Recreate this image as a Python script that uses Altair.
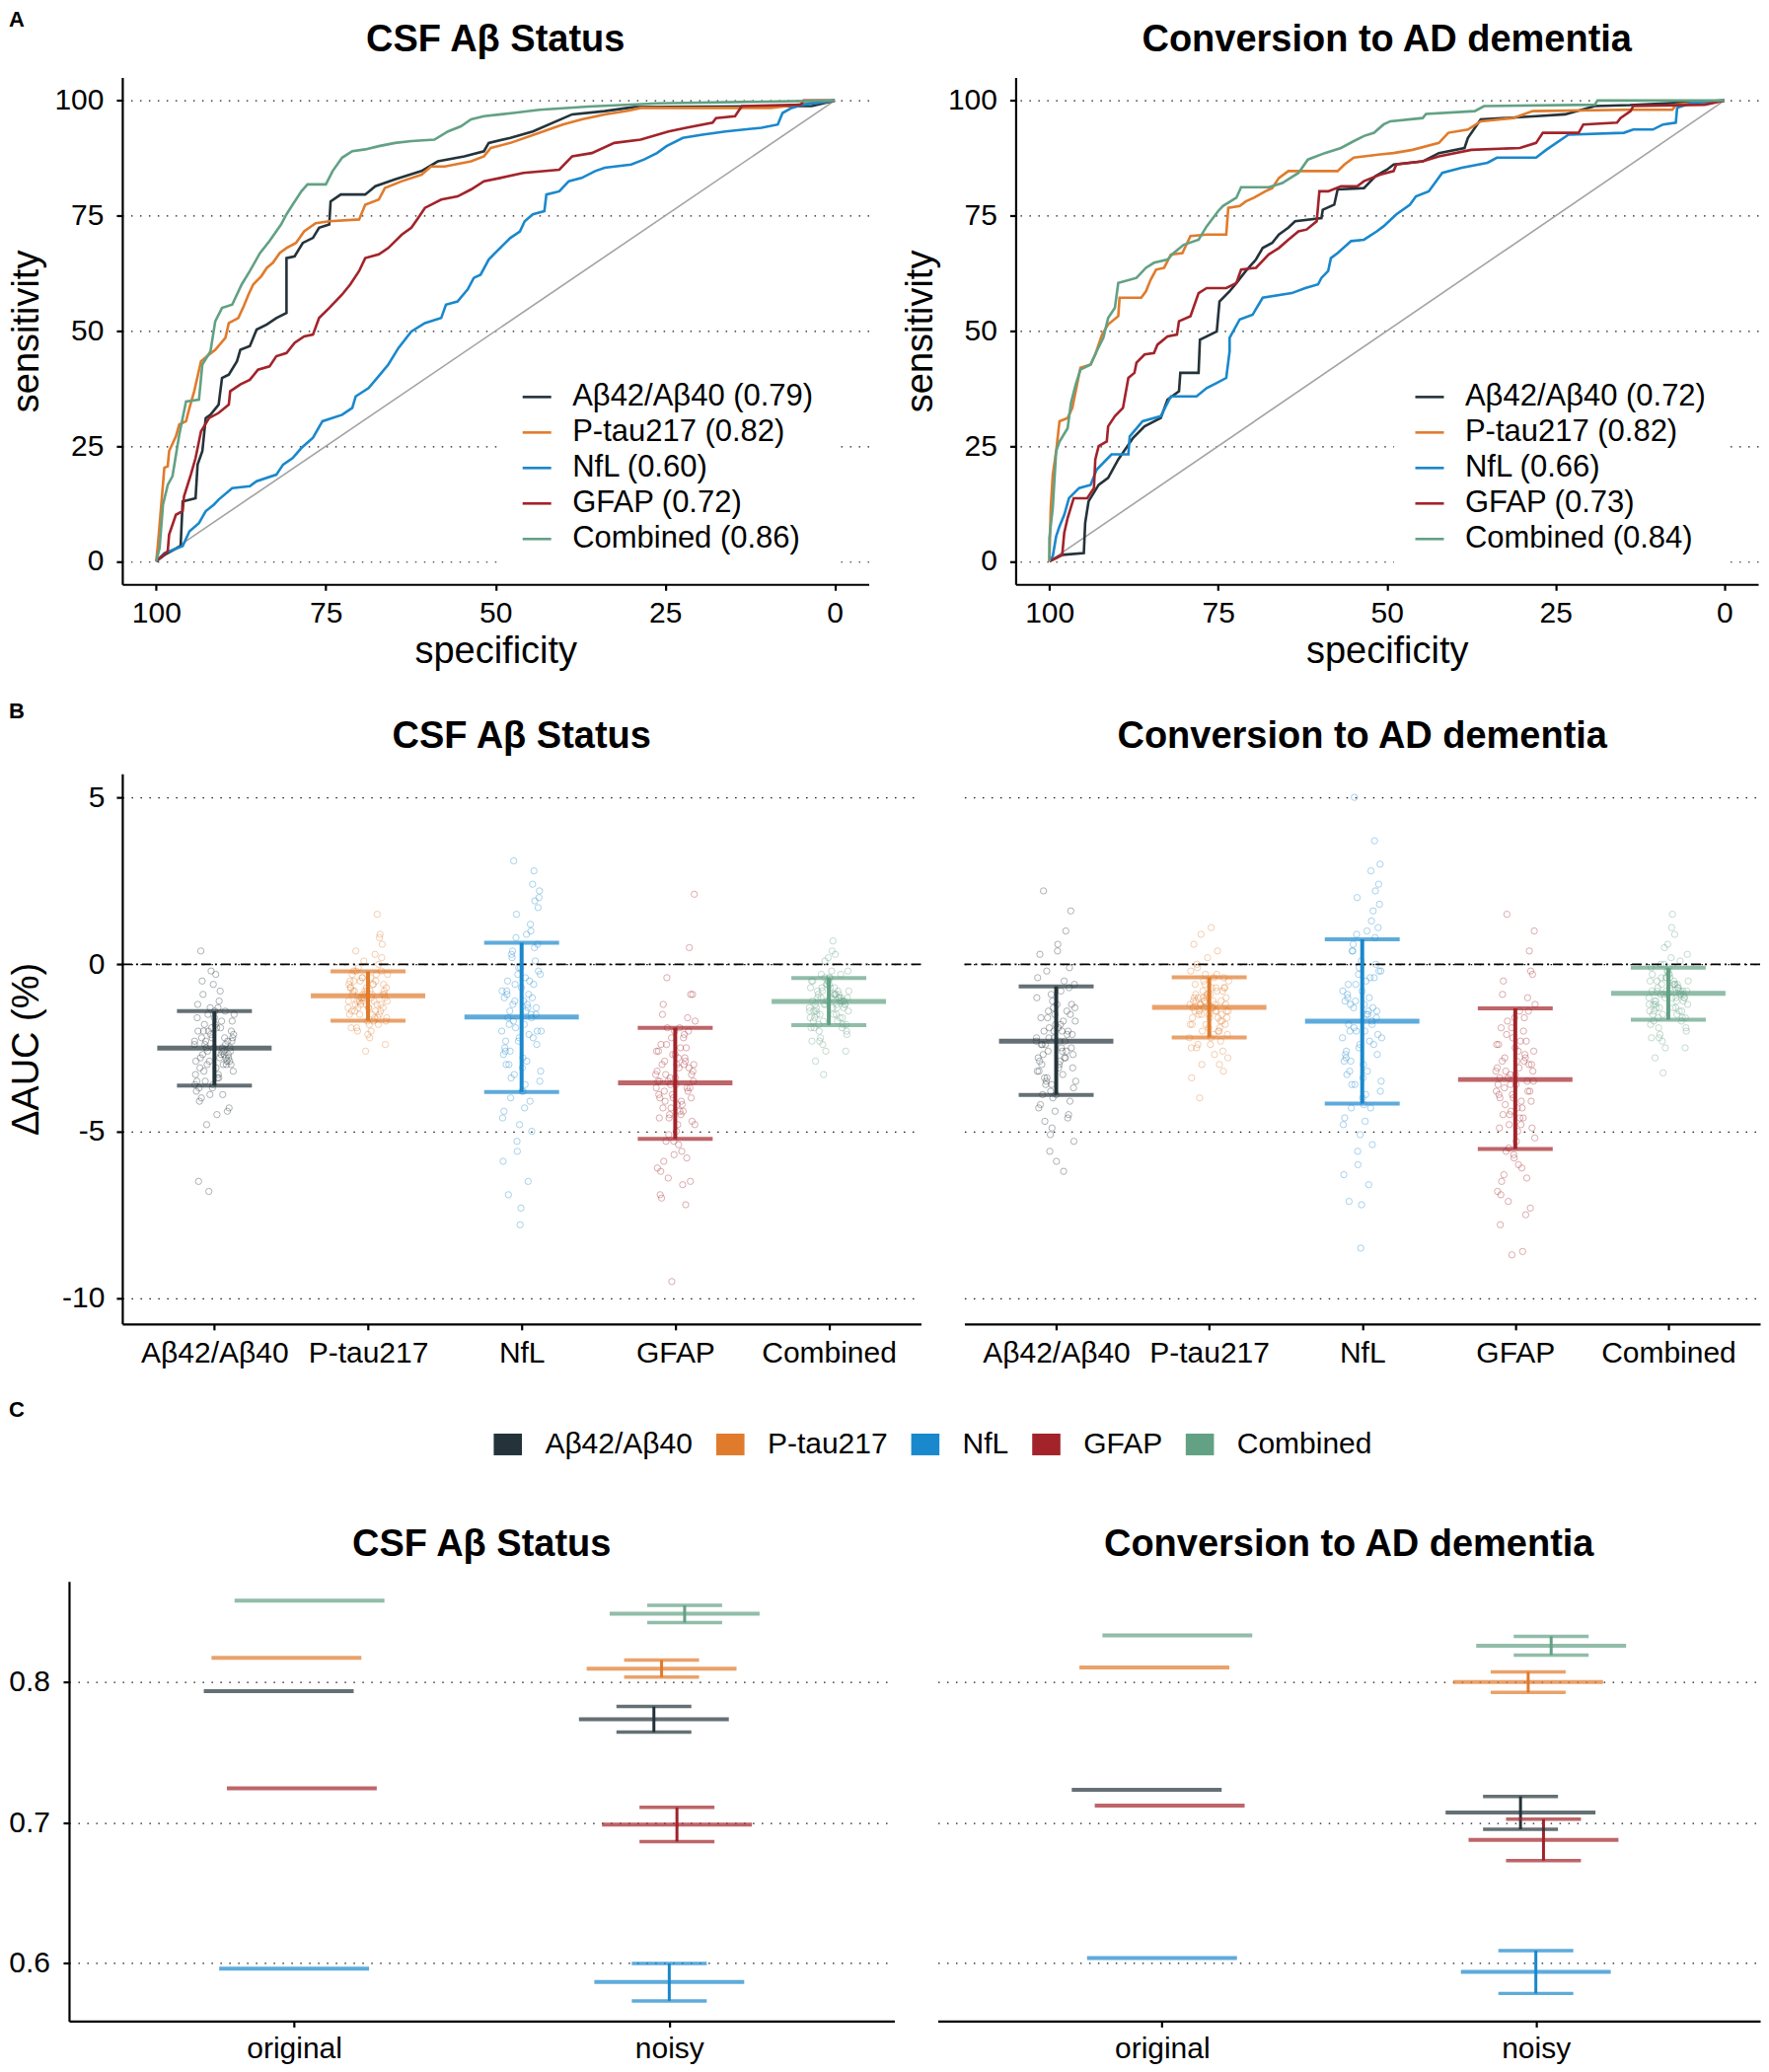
import altair as alt
import pandas as pd

FONT = "Liberation Sans, Arial, Helvetica, sans-serif"

MARKERS = ["Aβ42/Aβ40", "P-tau217", "NfL", "GFAP", "Combined"]
COLORS = ["#24333a", "#e07b2c", "#1a88cc", "#a2232a", "#62a184"]

# ---------------- Panel A : ROC curves, (specificity, sensitivity) ----------------
csf_roc_abeta = [(100,0),(98.8,1.4),(96.4,3.3),(96.1,13.0),(94.2,13.7),(93.9,21.0),(93.2,23.9),(92.7,31.1),(92.0,31.8),(90.8,34.0),(90.3,39.8),(89.3,40.5),(88.1,43.4),(87.6,45.9),(86.2,46.7),(85.2,50.3),(83.7,51.4),(82.3,52.8),(80.8,53.9),(80.8,65.8),(79.6,66.2),(78.4,69.1),(76.9,70.2),(76.0,72.4),(74.5,73.1),(74.3,78.1),(72.8,79.6),(69.2,79.6),(67.7,81.4),(64.8,82.9),(60.9,84.7),(58.5,86.8),(54.6,87.9),(51.7,89.0),(51.0,90.8),(47.8,91.9),(44.5,93.3),(38.7,97.0),(33.9,97.7),(30.5,98.4),(29.6,98.6),(3.4,98.8),(0,100)]
csf_roc_ptau = [(100,0),(99.8,2.9),(99.5,8.0),(98.8,20.3),(98.3,20.6),(98.1,23.9),(97.1,27.1),(96.6,29.7),(95.6,30.4),(95.1,33.3),(94.4,36.9),(93.4,43.4),(92.5,44.5),(91.3,45.9),(89.8,48.5),(89.3,51.7),(87.9,52.8),(87.1,55.4),(86.4,57.9),(85.7,60.1),(84.5,61.9),(83.7,63.7),(82.8,64.8),(81.8,66.9),(80.8,68.0),(79.4,69.1),(78.2,71.6),(76.5,73.4),(74.5,73.8),(70.1,74.2),(69.2,77.4),(67.2,78.5),(66.3,81.0),(63.8,82.5),(60.9,83.9),(59.5,85.7),(57.5,85.7),(53.6,86.8),(51.7,87.9),(50.7,89.7),(47.8,90.8),(43.5,93.0),(40.1,94.8),(37.3,95.9),(33.9,97.0),(30.5,97.8),(28.6,98.4),(9.4,98.4),(5.5,99.1),(0,100)]
csf_roc_nfl = [(100,0),(98.8,1.8),(96.1,3.3),(95.1,6.5),(93.7,8.3),(92.7,10.9),(91.5,12.3),(90.8,13.4),(88.8,15.9),(86.2,16.3),(85.2,17.4),(82.3,18.8),(81.3,21.0),(79.9,22.4),(78.6,24.6),(76.9,26.8),(75.5,30.4),(72.6,31.8),(71.1,33.3),(70.6,35.8),(68.7,37.6),(67.2,40.2),(65.8,42.7),(64.3,46.3),(62.4,49.9),(60.4,51.7),(58.0,52.8),(57.3,55.7),(55.6,56.4),(54.1,59.0),(53.2,61.5),(52.2,62.2),(51.0,65.5),(49.8,67.3),(47.8,70.2),(46.4,71.6),(45.7,73.8),(44.5,75.3),(42.8,76.0),(42.5,79.6),(40.6,80.3),(39.2,82.5),(37.3,83.2),(35.3,84.7),(33.9,85.4),(30.0,86.1),(28.1,87.2),(26.2,88.6),(24.8,90.1),(22.4,91.9),(19.5,92.6),(16.1,93.3),(10.8,94.1),(8.4,94.8),(7.7,97.3),(6.5,98.3),(4.6,99.1),(0,100)]
csf_roc_gfap = [(100,0),(99.5,0.7),(98.3,2.2),(98.1,5.8),(97.1,10.1),(96.1,10.9),(95.9,14.1),(94.9,18.8),(94.2,22.4),(93.4,28.2),(92.2,31.1),(90.8,32.2),(89.3,34.0),(89.1,36.9),(87.6,38.4),(86.2,39.4),(85.0,41.6),(83.3,42.3),(82.3,44.5),(80.8,45.2),(79.6,47.4),(78.2,48.8),(76.9,49.2),(76.0,52.8),(74.5,55.0),(72.6,57.9),(71.4,60.1),(70.1,63.0),(69.2,65.8),(67.2,66.6),(65.8,68.0),(63.8,70.9),(62.4,72.4),(61.4,74.5),(60.4,76.7),(58.0,78.5),(55.6,79.2),(53.6,80.7),(51.7,82.5),(49.3,83.2),(45.9,84.3),(40.6,85.0),(38.7,87.9),(35.8,88.6),(32.5,90.8),(28.6,91.5),(24.5,93.3),(21.9,94.1),(18.0,95.2),(17.5,96.2),(14.7,96.6),(13.7,98.8),(5.0,99.1),(4.6,100),(0,100)]
csf_roc_comb = [(100,0),(99.5,2.9),(99.0,12.3),(98.3,16.6),(97.6,18.5),(96.6,27.5),(95.6,34.7),(93.7,35.1),(93.2,42.7),(92.0,45.6),(91.3,52.1),(90.3,55.0),(88.8,55.7),(87.4,60.1),(86.2,63.0),(84.7,66.9),(83.3,69.5),(81.6,73.1),(80.8,75.3),(79.9,77.4),(78.6,80.3),(77.7,81.8),(75.0,81.8),(74.0,84.7),(72.6,87.6),(71.1,89.0),(69.2,89.4),(67.2,90.1),(64.8,90.8),(62.4,91.2),(59.0,91.5),(57.0,93.3),(55.1,94.4),(53.6,95.9),(51.7,96.6),(47.4,97.3),(43.5,98.0),(36.3,98.7),(26.2,99.4),(0,100)]

conv_roc_abeta = [(100,0),(98.1,1.4),(94.9,1.8),(94.7,8.3),(94.2,13.0),(92.7,16.6),(91.3,18.1),(89.8,22.1),(87.6,26.8),(85.9,29.3),(83.5,31.1),(82.5,35.1),(80.8,36.9),(80.6,40.9),(77.9,40.9),(77.7,48.1),(75.2,49.9),(74.8,56.4),(73.3,58.6),(72.3,60.4),(70.9,63.0),(69.4,65.5),(68.4,68.0),(67.0,69.1),(66.0,70.9),(64.6,72.4),(63.6,73.8),(59.7,74.5),(59.5,76.3),(57.8,77.4),(57.3,80.7),(53.4,81.0),(51.7,83.6),(50.0,85.0),(49.0,86.1),(44.7,86.8),(42.3,88.6),(38.5,89.7),(38.0,91.9),(36.1,95.9),(27.9,96.6),(23.6,97.0),(19.2,98.8),(14.0,99.0),(0,100)]
conv_roc_ptau = [(100,0),(99.8,11.6),(99.5,18.8),(99.0,23.9),(98.5,30.4),(97.3,31.1),(96.6,33.3),(95.4,42.0),(93.9,42.7),(93.2,44.9),(92.2,49.2),(91.3,51.4),(89.8,53.2),(89.6,57.2),(86.4,57.2),(85.7,58.6),(85.0,61.1),(84.2,63.3),(83.0,63.7),(82.0,66.6),(80.3,66.9),(79.1,70.6),(76.7,70.9),(73.8,70.9),(73.5,76.7),(71.8,77.1),(70.9,78.1),(69.7,78.9),(68.0,80.3),(67.0,81.0),(66.0,83.2),(64.6,84.7),(57.3,84.7),(56.3,86.1),(54.9,87.6),(51.0,88.3),(49.0,88.6),(46.2,89.3),(42.3,90.8),(40.9,93.0),(38.0,93.7),(36.1,95.5),(31.3,96.2),(28.4,97.7),(14.4,98.0),(7.7,98.0),(7.2,99.1),(0,100)]
conv_roc_nfl = [(100,0),(99.5,1.1),(99.0,5.4),(98.5,7.6),(97.8,10.1),(97.1,13.7),(95.6,15.9),(93.9,16.6),(93.0,19.9),(90.8,23.2),(88.3,23.2),(88.1,27.1),(86.2,30.4),(83.5,31.5),(82.0,35.8),(78.2,35.8),(76.7,37.6),(75.2,38.7),(73.8,39.8),(73.3,45.6),(73.3,48.5),(71.8,52.5),(69.9,53.5),(68.4,57.2),(64.1,58.2),(62.1,59.3),(60.2,60.1),(59.7,61.5),(58.7,63.0),(58.3,65.8),(57.3,66.9),(55.3,69.5),(53.4,69.8),(51.5,71.6),(50.5,72.7),(48.6,75.3),(46.6,77.4),(45.7,79.2),(43.8,80.3),(41.8,84.3),(38.9,85.4),(35.1,86.5),(33.7,87.6),(27.9,87.6),(26.4,89.3),(23.1,92.6),(14.9,93.0),(13.5,93.7),(10.6,93.7),(9.1,94.8),(7.2,95.2),(7.0,98.4),(4.8,99.5),(0,100)]
conv_roc_gfap = [(100,0),(99.0,0.7),(98.1,1.4),(97.8,6.2),(97.3,9.4),(96.4,13.7),(94.4,13.7),(93.4,15.9),(93.2,22.1),(92.7,25.0),(91.5,26.0),(91.3,29.3),(90.3,31.5),(89.1,33.3),(88.3,39.8),(87.4,40.9),(87.1,43.1),(85.9,44.9),(84.5,45.2),(84.0,47.0),(82.5,48.8),(81.1,49.2),(80.8,52.1),(79.1,53.2),(77.9,58.2),(76.7,59.3),(73.8,59.3),(72.3,60.4),(71.6,63.3),(69.4,63.7),(67.5,66.6),(66.0,68.0),(64.6,69.8),(63.1,71.6),(61.9,72.0),(60.4,73.8),(60.0,80.3),(58.7,80.3),(56.8,81.4),(54.4,81.4),(53.4,82.5),(51.0,83.9),(49.0,84.7),(48.6,86.1),(44.7,86.8),(42.3,87.9),(37.5,89.3),(30.3,89.7),(27.9,90.8),(26.9,93.0),(21.6,93.0),(20.9,94.8),(15.9,95.2),(15.4,96.2),(13.9,97.7),(13.5,98.8),(2.9,99.1),(0,100)]
conv_roc_comb = [(100,0),(100,5.1),(99.5,11.6),(99.0,23.9),(98.5,26.0),(97.3,28.9),(96.8,34.4),(96.1,38.4),(95.4,41.6),(93.9,42.7),(93.0,45.6),(92.0,48.5),(91.3,52.8),(90.3,55.0),(89.8,60.4),(87.1,61.5),(85.7,63.7),(84.5,64.8),(82.5,65.5),(81.6,66.9),(80.1,68.7),(77.9,69.8),(76.7,72.7),(75.0,76.0),(74.3,77.1),(72.3,78.9),(71.6,81.2),(67.5,81.2),(65.5,82.1),(63.1,84.3),(61.7,87.2),(59.2,88.6),(56.8,89.7),(54.9,91.2),(53.4,92.3),(51.9,93.0),(50.5,94.8),(49.5,95.5),(44.7,96.2),(44.2,97.1),(37.0,97.7),(35.6,98.8),(19.2,99.1),(18.8,100),(0,100)]

csf_auc = [0.79, 0.82, 0.60, 0.72, 0.86]
conv_auc = [0.72, 0.82, 0.66, 0.73, 0.84]
diag_spec = [100, 0]
diag_sens = [0, 100]

# ---------------- Panel B : delta AUC (%) ----------------
b_csf_mean = [-2.51, -0.94, -1.58, -3.55, -1.11]
b_csf_lo = [-3.63, -1.69, -3.82, -5.23, -1.82]
b_csf_hi = [-1.40, -0.21, 0.65, -1.90, -0.41]
b_conv_mean = [-2.30, -1.29, -1.70, -3.45, -0.87]
b_conv_lo = [-3.91, -2.19, -4.17, -5.53, -1.66]
b_conv_hi = [-0.66, -0.39, 0.75, -1.32, -0.10]

csf_pts_abeta = [-2.4,-1.1,-3.2,-2.8,-0.6,-2.0,-3.9,-2.6,-1.7,-4.5,-2.2,-3.0,-0.2,-2.9,-1.9,-3.5,-2.5,-1.4,-4.1,-2.7,-6.8,-2.1,-3.3,-0.9,-2.3,-3.7,-1.6,-2.6,-4.8,-2.0,-3.1,0.4,-2.4,-1.3,-3.6,-2.8,-1.8,-4.3,-2.5,-6.5,-3.0,-1.5,-2.2,-3.4,-0.5,-2.9,-1.9,-3.8,-2.7,-2.3,
                 -2.6,-1.8,-3.1,-2.2,-2.9,-1.5,-3.4,-2.0,-2.7,-3.6,-1.2,-2.5,-3.0,-2.3,-1.9,-4.0,-2.8,-2.1,-3.3,-0.8,-2.4,-2.9,-1.6,-3.7,-2.6,-2.0,-3.2,-1.3,-2.7,-4.4,-2.2,-3.5,-1.7,-2.5,-3.0,-0.3,-2.8,-1.4,-3.9,-2.3]
csf_pts_ptau = [-0.9,-0.3,-1.5,-1.1,0.2,-0.7,-1.9,-0.5,-1.2,-2.4,-0.8,-1.4,0.8,-1.0,-0.6,-1.7,-0.1,-1.3,-2.1,-0.9,1.5,-0.4,-1.6,-1.0,-0.2,-1.2,-2.6,-0.7,0.3,-1.5,-0.9,-1.8,-0.5,0.0,-1.1,-1.3,-0.6,-2.0,0.6,-0.8,-1.4,-0.3,-1.0,-1.7,-0.4,-1.2,0.9,-0.8,-1.5,-1.1,
                -1.0,-0.6,-1.3,-0.8,-1.6,-0.4,-1.1,-0.9,-1.9,-0.2,-1.2,-0.7,-1.4,-0.5,-1.0,-2.2,-0.8,-1.5,0.1,-1.1,-0.6,-1.3,-0.9,-1.7,-0.3,-1.2,-1.0,-0.7,-2.0,0.4,-1.4,-0.9,-0.5,-1.6,-1.1,-0.8,-1.3,-0.2,-1.8,-1.0]
csf_pts_nfl = [-1.5,0.8,-3.2,-0.4,-2.6,1.9,-4.8,-1.0,-2.1,3.1,-0.2,-3.8,-1.6,2.4,-5.6,-0.8,-2.9,0.3,-1.3,-7.3,-2.3,1.2,-0.6,-3.5,-4.3,-1.8,2.8,-0.1,-2.7,-6.5,-1.2,0.6,-3.1,-0.9,-5.0,1.5,-2.0,-1.4,-4.0,0.1,-7.8,-2.5,-0.5,-3.3,2.0,-1.1,-6.9,-2.2,-0.3,-4.6,
               -1.2,0.2,-2.4,-0.7,-3.0,1.0,-1.9,-0.3,-3.6,-1.4,0.5,-2.2,-4.4,-0.9,-1.7,1.7,-2.8,-0.5,-1.0,-5.3,-2.0,0.9,-3.4,-1.5,-0.1,-2.6,-4.1,-1.1,2.2,-1.8,-3.0,-0.6,-2.3,-5.9,-1.3,0.4,-2.0,-3.8,-0.8,-1.6]
csf_pts_gfap = [-3.5,-2.1,-4.6,-3.0,-5.4,-1.2,-3.8,-2.7,-6.1,-4.2,-0.4,-3.3,-5.0,-2.4,-7.2,-3.6,-1.7,-4.4,-2.9,0.5,-5.7,-3.9,-2.2,-6.4,-3.2,-4.8,-1.5,-3.7,-9.5,-2.6,-4.1,-5.3,-0.9,-3.4,-6.9,-2.8,-4.5,2.1,-3.1,-5.9,-2.0,-4.0,-3.5,-6.6,-1.9,-4.7,-3.0,-7.0,-2.5,-4.3,
                -3.3,-2.5,-4.1,-3.7,-2.0,-4.6,-3.0,-5.1,-3.5,-2.8,-4.3,-1.6,-3.9,-3.2,-5.6,-2.4,-4.0,-3.6,-6.2,-2.9,-3.4,-4.8,-1.9,-3.8,-3.1,-5.3,-2.6,-4.4,-3.5,-0.9,-4.2,-3.0,-5.8,-2.2,-3.7,-4.5,-3.3,-6.5,-2.7,-4.0]
csf_pts_comb = [-1.1,-0.5,-1.7,-0.8,-2.1,-0.2,-1.3,-1.0,-2.6,-0.7,0.3,-1.5,-1.2,-0.4,-1.9,-0.9,-3.3,-1.4,0.7,-1.0,-1.6,-0.6,-2.3,-1.2,-0.3,-1.8,-0.9,-2.9,-1.1,0.1,-1.4,-0.7,-2.0,-1.3,-0.5,-1.7,-0.8,-2.4,-1.0,0.4,-1.5,-1.1,-0.6,-1.9,-0.9,-2.2,-1.2,-0.4,-1.6,-1.0,
                -1.2,-0.8,-1.5,-0.9,-1.8,-0.5,-1.1,-1.3,-0.7,-2.0,-1.0,-1.4,-0.3,-1.2,-1.6,-0.9,-2.3,-1.1,-0.6,-1.4,-1.0,-1.7,-0.2,-1.3,-0.8,-1.9,-1.1,-0.5,-1.5,-1.0,-2.6,-0.7,-1.2,-1.6,-0.4,-1.3,-0.9,-1.8,-1.1,0.2]
conv_pts_abeta = [-2.3,-0.8,-3.6,-1.5,-4.4,0.3,-2.8,-1.9,-5.3,-3.1,2.2,-2.0,-4.0,-0.4,-2.6,-3.4,-1.2,-5.9,-2.4,1.0,-3.8,-1.7,-2.9,-4.7,-0.1,-2.2,-3.2,-6.2,-1.4,-2.7,0.6,-3.9,-2.1,-4.9,-1.0,-2.5,-3.5,1.6,-1.8,-4.2,-2.3,-5.6,-0.6,-3.0,-2.0,-4.5,-1.3,-2.8,-3.3,-1.6,
                  -2.1,-1.2,-3.0,-2.6,-0.9,-3.5,-1.8,-2.4,-4.1,-1.5,-2.9,-0.5,-2.2,-3.7,-1.9,-2.7,-4.6,-1.1,-3.2,-2.0,-0.2,-2.5,-3.9,-1.6,-2.8,-5.1,-1.3,-2.3,-3.4,-0.7,-2.0,-4.3,-1.7,-2.6,-3.1,0.4,-2.4,-1.4,-3.6,-2.2]
conv_pts_ptau = [-1.3,-0.5,-2.1,-1.0,-2.6,0.2,-1.6,-0.8,-3.0,-1.4,1.1,-1.1,-2.3,-0.3,-1.8,-1.2,-4.0,-0.7,-1.5,0.6,-2.0,-1.0,-2.8,-1.3,-0.1,-1.7,-0.9,-3.4,-1.4,0.9,-1.2,-2.4,-0.6,-1.9,-1.1,-2.2,-0.4,-1.5,-3.2,-0.9,-1.3,0.4,-2.0,-1.6,-0.7,-2.5,-1.1,-1.8,-0.2,-1.4,
                 -1.2,-0.7,-1.6,-1.0,-2.0,-0.5,-1.4,-1.1,-2.4,-0.8,-1.3,-1.8,-0.3,-1.5,-1.0,-2.2,-0.9,-1.7,-0.6,-1.2,-2.7,-1.4,-0.4,-1.9,-1.1,-1.6,-0.8,-2.1,-1.3,0.0,-1.5,-1.0,-2.5,-0.7,-1.2,-1.8,-0.9,-1.4,-3.0,-1.1]
conv_pts_nfl = [-1.7,0.9,-3.5,-0.5,-2.9,2.2,-5.1,-1.1,-2.3,5.0,-0.2,-4.2,-1.8,1.6,-6.0,-0.8,-3.2,0.4,-1.4,-7.2,-2.6,2.8,-0.6,-3.8,-4.7,-2.0,3.7,-0.1,-2.9,-6.6,-1.3,1.1,-3.4,-1.0,-5.4,2.0,-2.2,-1.5,-4.3,0.0,-8.5,-2.7,-0.4,-3.6,1.8,-1.2,-7.1,-2.4,-0.3,-4.8,
                -1.5,0.4,-2.7,-0.8,-3.3,1.3,-2.0,-0.2,-3.9,-1.2,0.8,-2.4,-4.6,-1.0,-1.9,2.4,-3.0,-0.6,-1.3,-5.6,-2.2,1.0,-3.6,-1.6,0.1,-2.8,-4.3,-1.1,3.0,-2.0,-3.2,-0.4,-2.5,-6.3,-1.4,0.6,-2.1,-4.0,-0.9,-1.8]
conv_pts_gfap = [-3.4,-1.6,-4.8,-2.6,-6.0,-0.5,-3.8,-2.2,-6.8,-4.3,1.5,-3.0,-5.3,-1.9,-7.5,-3.6,-1.2,-4.6,-2.8,0.4,-5.8,-3.9,-2.0,-7.1,-3.2,-5.0,-0.9,-3.5,-8.7,-2.4,-4.1,-5.6,-0.2,-3.3,-7.8,-2.7,-4.5,1.0,-3.1,-6.3,-1.4,-4.0,-3.6,-8.6,-1.7,-4.9,-2.9,-6.5,-2.3,-4.4,
                 -3.2,-2.3,-4.2,-3.8,-1.6,-4.9,-2.9,-5.5,-3.5,-2.6,-4.5,-1.0,-3.9,-3.1,-6.1,-2.1,-4.1,-3.6,-6.9,-2.8,-3.3,-5.2,-1.4,-3.7,-3.0,-5.7,-2.4,-4.6,-3.4,-0.3,-4.3,-2.9,-6.4,-1.9,-3.8,-4.8,-3.2,-7.3,-2.5,-4.0]
conv_pts_comb = [-0.9,-0.3,-1.5,-0.6,-2.0,0.2,-1.1,-0.8,-2.5,-0.5,0.9,-1.3,-1.0,-0.1,-1.7,-0.7,-3.25,-1.2,1.5,-0.8,-1.4,-0.4,-2.2,-1.0,0.0,-1.6,-0.7,-2.8,-0.9,0.5,-1.2,-0.5,-1.9,-1.1,-0.2,-1.5,-0.6,-2.3,-0.8,1.1,-1.3,-0.9,-0.4,-1.8,-0.6,-2.1,-1.0,-0.3,-1.4,-0.8,
                 -0.9,-0.5,-1.3,-0.7,-1.6,-0.2,-0.8,-1.1,-0.4,-1.9,-0.8,-1.2,0.1,-1.0,-1.4,-0.6,-2.2,-0.9,-0.3,-1.2,-0.7,-1.5,0.3,-1.0,-0.5,-1.7,-0.8,-0.1,-1.3,-0.9,-2.5,-0.4,-1.1,-1.4,0.0,-1.0,-0.6,-1.6,-0.8,0.6]

# ---------------- Panel C : AUC original vs noisy ----------------
C_CATS = ["original", "noisy"]
c_csf_orig = [0.7934, 0.8172, 0.5960, 0.7243, 0.8579]
c_csf_mean = [0.7734, 0.8094, 0.5866, 0.6986, 0.8485]
c_csf_lo = [0.7643, 0.8034, 0.5731, 0.6864, 0.8422]
c_csf_hi = [0.7825, 0.8156, 0.5997, 0.7108, 0.8545]
c_conv_orig = [0.7233, 0.8103, 0.6035, 0.7121, 0.8332]
c_conv_mean = [0.7071, 0.8000, 0.5938, 0.6876, 0.8257]
c_conv_lo = [0.6952, 0.7925, 0.5784, 0.6729, 0.8191]
c_conv_hi = [0.7186, 0.8072, 0.6088, 0.7024, 0.8325]

TITLE_CSF = "CSF Aβ Status"
TITLE_CONV = "Conversion to AD dementia"


def title_mark(text, width, off):
    return alt.Chart(pd.DataFrame({"t": [text]})).mark_text(
        font=FONT, fontSize=38, fontWeight="bold", color="black", align="center", baseline="alphabetic"
    ).encode(text="t:N", x=alt.value(width / 2), y=alt.value(-off))


def letter_mark(text, dx, dy):
    return alt.Chart(pd.DataFrame({"t": [text]})).mark_text(
        font=FONT, fontSize=22, fontWeight="bold", color="black", align="left", baseline="alphabetic"
    ).encode(text="t:N", x=alt.value(dx), y=alt.value(dy))


def spacer(w):
    return alt.Chart(pd.DataFrame({"s": [0]})).mark_point(opacity=0).properties(width=w, height=10)


def roc_panel(curves, aucs, title, width, legend_x, letter=None):
    labels = [f"{m} ({a:.2f})" for m, a in zip(MARKERS, aucs)]
    rows = []
    for lab, pts in zip(labels, curves):
        for j, (s, se) in enumerate(pts):
            rows.append({"label": lab, "spec": s, "sens": se, "ord": j})
    df = pd.DataFrame(rows)
    diag = pd.DataFrame({"spec": diag_spec, "sens": diag_sens})
    x = alt.X("spec:Q", scale=alt.Scale(domain=[-5, 105], reverse=True, nice=False, zero=False),
              axis=alt.Axis(values=[100, 75, 50, 25, 0], title="specificity", grid=False,
                            labelPadding=8, titlePadding=5, labelFlush=False, labelOverlap=False))
    y = alt.Y("sens:Q", scale=alt.Scale(domain=[-5, 105], nice=False, zero=False),
              axis=alt.Axis(values=[0, 25, 50, 75, 100], title="sensitivity", grid=True,
                            labelPadding=13, titlePadding=8, labelOverlap=False))
    dline = alt.Chart(diag).mark_line(color="#a3a3a3", strokeWidth=1.6).encode(x=x, y=y)
    lines = alt.Chart(df).mark_line(strokeWidth=2.6).encode(
        x=x, y=y,
        color=alt.Color("label:N", sort=labels, scale=alt.Scale(domain=labels, range=COLORS),
                        legend=alt.Legend(title=None, orient="none", legendX=legend_x, legendY=288.0,
                                          fillColor="white", padding=20, symbolType="stroke",
                                          symbolSize=841, symbolStrokeWidth=2.6, labelFont=FONT,
                                          labelFontSize=31, labelColor="black", labelOffset=20,
                                          rowPadding=5, labelLimit=0)),
        order="ord:Q")
    layers = [dline, lines, title_mark(title, width, 27)]
    if letter:
        layers.append(letter_mark(letter, -115, -51.4))
    return alt.layer(*layers).properties(width=width, height=514)


LAB_B = "[" + ",".join("'" + m + "'" for m in MARKERS) + "][datum.value]"
LAB_C = "[" + ",".join("'" + c + "'" for c in C_CATS) + "][datum.value]"


def delta_panel(point_lists, mean, lo, hi, title, width, left):
    prow = []
    for k, (m, vals) in enumerate(zip(MARKERS, point_lists)):
        for i, v in enumerate(vals):
            jit = ((i * 0.6180339887 + k * 0.37) % 1.0 - 0.5) * 0.26
            prow.append({"marker": m, "xpos": k + jit, "value": v})
    pts = pd.DataFrame(prow)
    st = pd.DataFrame({"marker": MARKERS, "idx": list(range(5)), "mean": mean, "lo": lo, "hi": hi})
    xs = alt.Scale(domain=[-0.6, 4.6], nice=False, zero=False)
    xa = alt.Axis(values=[0, 1, 2, 3, 4], labelExpr=LAB_B, title=None, grid=False, labelPadding=9,
                  labelFlush=False, labelOverlap=False)
    ys = alt.Scale(domain=[-10.77, 5.71], nice=False, zero=False)
    if left:
        ya = alt.Axis(values=[5, 0, -5, -10], labelExpr="datum.value + ''", title="ΔAUC (%)", grid=True,
                      labelPadding=12, titlePadding=16, labelOverlap=False)
    else:
        ya = alt.Axis(values=[5, 0, -5, -10], labels=False, ticks=False, domain=False, title=None, grid=True)
    col = alt.Color("marker:N", scale=alt.Scale(domain=MARKERS, range=COLORS), legend=None)
    xi = alt.X("idx:Q", scale=xs, axis=xa)
    p = alt.Chart(pts).mark_point(filled=False, size=40, strokeWidth=1, opacity=0.38).encode(
        x=alt.X("xpos:Q", scale=xs, axis=xa), y=alt.Y("value:Q", scale=ys, axis=ya), color=col)
    zero = alt.Chart(pd.DataFrame({"z": [0]})).mark_rule(color="black", strokeWidth=1.8,
                                                       strokeDash=[10, 4, 2, 4]).encode(
        y=alt.Y("z:Q", scale=ys, axis=ya))
    vr = alt.Chart(st).mark_rule(strokeWidth=4).encode(x=xi, y=alt.Y("lo:Q", scale=ys, axis=ya), y2="hi:Q", color=col)
    cap_lo = alt.Chart(st).mark_tick(orient="horizontal", size=76, thickness=4).encode(
        x=xi, y=alt.Y("lo:Q", scale=ys, axis=ya), color=col)
    cap_hi = alt.Chart(st).mark_tick(orient="horizontal", size=76, thickness=4).encode(
        x=xi, y=alt.Y("hi:Q", scale=ys, axis=ya), color=col)
    mbar = alt.Chart(st).mark_tick(orient="horizontal", size=116, thickness=5).encode(
        x=xi, y=alt.Y("mean:Q", scale=ys, axis=ya), color=col)
    layers = [p, zero, vr, cap_lo, cap_hi, mbar, title_mark(title, width, 25.8)]
    if left:
        layers.append(letter_mark("B", -115, -56))
    return alt.layer(*layers).properties(width=width, height=558)


def auc_panel(orig, nmean, nlo, nhi, title, width, left):
    dodge = 0.0205
    o = pd.DataFrame({"marker": MARKERS, "xpos": [0 + (i - 2) * dodge for i in range(5)], "val": orig})
    n = pd.DataFrame({"marker": MARKERS, "xpos": [1 + (i - 2) * dodge for i in range(5)],
                      "mean": nmean, "lo": nlo, "hi": nhi})
    xs = alt.Scale(domain=[-0.6, 1.6], nice=False, zero=False)
    xa = alt.Axis(values=[0, 1], labelExpr=LAB_C, title=None, grid=False, labelPadding=7,
                  labelFlush=False, labelOverlap=False)
    ys = alt.Scale(domain=[0.5587, 0.8716], nice=False, zero=False)
    if left:
        ya = alt.Axis(values=[0.6, 0.7, 0.8], format=".1f", title=None, grid=True, labelPadding=13.5,
                      labelOverlap=False)
        lg = alt.Legend(title=None, orient="none", direction="horizontal", columns=5,
                        legendX=430.0, legendY=-153.8, symbolType="M-1.3,-1H1.3V1H-1.3Z",
                        symbolSize=484, symbolStrokeWidth=0, symbolOpacity=1, labelFont=FONT,
                        labelFontSize=30, labelColor="black", labelOffset=22.7, columnPadding=22.7,
                        labelLimit=0)
    else:
        ya = alt.Axis(values=[0.6, 0.7, 0.8], labels=False, ticks=False, domain=False, title=None, grid=True)
        lg = None
    col = alt.Color("marker:N", scale=alt.Scale(domain=MARKERS, range=COLORS), legend=lg)
    x = alt.X("xpos:Q", scale=xs, axis=xa)
    t_o = alt.Chart(o).mark_tick(orient="horizontal", size=152, thickness=4).encode(
        x=x, y=alt.Y("val:Q", scale=ys, axis=ya), color=col)
    vr = alt.Chart(n).mark_rule(strokeWidth=3).encode(x=x, y=alt.Y("lo:Q", scale=ys, axis=ya), y2="hi:Q", color=col)
    c1 = alt.Chart(n).mark_tick(orient="horizontal", size=76, thickness=3.5).encode(
        x=x, y=alt.Y("lo:Q", scale=ys, axis=ya), color=col)
    c2 = alt.Chart(n).mark_tick(orient="horizontal", size=76, thickness=3.5).encode(
        x=x, y=alt.Y("hi:Q", scale=ys, axis=ya), color=col)
    t_n = alt.Chart(n).mark_tick(orient="horizontal", size=152, thickness=4).encode(
        x=x, y=alt.Y("mean:Q", scale=ys, axis=ya), color=col)
    layers = [t_o, vr, c1, c2, t_n, title_mark(title, width, 26)]
    if left:
        layers.append(letter_mark("C", -61, -166.8))
    return alt.layer(*layers).properties(width=width, height=446)


a_left = roc_panel([csf_roc_abeta, csf_roc_ptau, csf_roc_nfl, csf_roc_gfap, csf_roc_comb], csf_auc,
                   TITLE_CSF, 757, 384.5, letter="A")
a_right = roc_panel([conv_roc_abeta, conv_roc_ptau, conv_roc_nfl, conv_roc_gfap, conv_roc_comb], conv_auc,
                    TITLE_CONV, 753, 383.8)
b_left = delta_panel([csf_pts_abeta, csf_pts_ptau, csf_pts_nfl, csf_pts_gfap, csf_pts_comb],
                     b_csf_mean, b_csf_lo, b_csf_hi, TITLE_CSF, 810, True)
b_right = delta_panel([conv_pts_abeta, conv_pts_ptau, conv_pts_nfl, conv_pts_gfap, conv_pts_comb],
                      b_conv_mean, b_conv_lo, b_conv_hi, TITLE_CONV, 807, False)
c_left = auc_panel(c_csf_orig, c_csf_mean, c_csf_lo, c_csf_hi, TITLE_CSF, 837, True)
c_right = auc_panel(c_conv_orig, c_conv_mean, c_conv_lo, c_conv_hi, TITLE_CONV, 834, False)


def indep(ch):
    return ch.resolve_scale(color="independent").resolve_legend(color="independent")


inner_a = indep(alt.hconcat(a_left, a_right, spacing=149, bounds="flush"))
inner_b = indep(alt.hconcat(b_left, b_right, spacing=44, bounds="flush"))
row_a = indep(alt.hconcat(spacer(54), inner_a, spacing=0, bounds="flush"))
row_b = indep(alt.hconcat(spacer(54), inner_b, spacing=0, bounds="flush"))
row_c = indep(alt.hconcat(c_left, c_right, spacing=44, bounds="flush"))

chart = indep(alt.vconcat(row_a, row_b, row_c, spacing=31)).properties(
    padding={"left": 0, "top": 0, "right": 0, "bottom": 0}
).configure_view(stroke=None).configure_axis(
    domainColor="black", domainWidth=2.2, tickColor="black", tickWidth=2.2, tickSize=6,
    labelFont=FONT, labelFontSize=30, labelColor="black",
    titleFont=FONT, titleFontSize=38, titleFontWeight="normal", titleColor="black",
    gridColor="black", gridDash=[1.5, 7.5], gridWidth=1.2, gridOpacity=0.9
).configure_legend(labelFont=FONT, labelColor="black")

chart.save("out.html", embed_options={"renderer": "svg", "actions": False})
